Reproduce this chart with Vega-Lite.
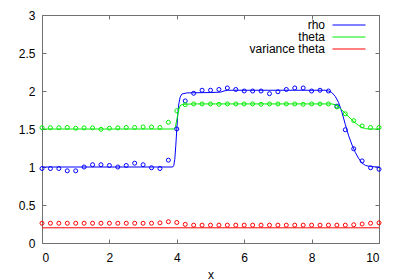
{
  "$schema": "https://vega.github.io/schema/vega-lite/v6.json",
  "width": 337,
  "height": 228,
  "autosize": "none",
  "padding": {"left": 42, "top": 15, "right": 21, "bottom": 37},
  "background": "white",
  "config": {
    "view": {"stroke": "#707070", "strokeWidth": 1},
    "font": "Liberation Sans",
    "axis": {"grid": false, "domain": false, "tickColor": "#707070", "tickSize": -4, "labelFontSize": 12, "labelColor": "#000000", "titleFontSize": 12, "titleFontWeight": "normal", "titleColor": "#000000", "labelFont": "Liberation Sans", "titleFont": "Liberation Sans"}
  },
  "datasets": {
    "curves": [
      {"s": "rho", "x": 0, "y": 1.0}, {"s": "rho", "x": 1.0, "y": 1.0}, {"s": "rho", "x": 2.0, "y": 1.0}, {"s": "rho", "x": 3.0, "y": 1.0}, {"s": "rho", "x": 3.88, "y": 1.0}, {"s": "rho", "x": 3.91, "y": 1.02}, {"s": "rho", "x": 3.94, "y": 1.1}, {"s": "rho", "x": 3.97, "y": 1.28}, {"s": "rho", "x": 4.0, "y": 1.5}, {"s": "rho", "x": 4.03, "y": 1.7}, {"s": "rho", "x": 4.06, "y": 1.83}, {"s": "rho", "x": 4.1, "y": 1.92}, {"s": "rho", "x": 4.15, "y": 1.96}, {"s": "rho", "x": 4.3, "y": 1.975}, {"s": "rho", "x": 5.0, "y": 1.98}, {"s": "rho", "x": 5.3, "y": 1.985}, {"s": "rho", "x": 5.4, "y": 2.0}, {"s": "rho", "x": 5.5, "y": 2.01}, {"s": "rho", "x": 7.0, "y": 2.01}, {"s": "rho", "x": 8.4, "y": 2.01}, {"s": "rho", "x": 8.5, "y": 2.0}, {"s": "rho", "x": 8.6, "y": 1.98}, {"s": "rho", "x": 8.7, "y": 1.93}, {"s": "rho", "x": 8.8, "y": 1.85}, {"s": "rho", "x": 8.9, "y": 1.72}, {"s": "rho", "x": 9.0, "y": 1.56}, {"s": "rho", "x": 9.1, "y": 1.41}, {"s": "rho", "x": 9.2, "y": 1.29}, {"s": "rho", "x": 9.3, "y": 1.19}, {"s": "rho", "x": 9.4, "y": 1.11}, {"s": "rho", "x": 9.5, "y": 1.05}, {"s": "rho", "x": 9.6, "y": 1.02}, {"s": "rho", "x": 9.75, "y": 1.005}, {"s": "rho", "x": 10, "y": 1.0},
      {"s": "theta", "x": 0, "y": 1.5}, {"s": "theta", "x": 2.0, "y": 1.5}, {"s": "theta", "x": 3.92, "y": 1.5}, {"s": "theta", "x": 3.96, "y": 1.53}, {"s": "theta", "x": 4.0, "y": 1.62}, {"s": "theta", "x": 4.04, "y": 1.72}, {"s": "theta", "x": 4.08, "y": 1.79}, {"s": "theta", "x": 4.12, "y": 1.815}, {"s": "theta", "x": 4.2, "y": 1.825}, {"s": "theta", "x": 4.5, "y": 1.83}, {"s": "theta", "x": 8.6, "y": 1.83}, {"s": "theta", "x": 8.7, "y": 1.82}, {"s": "theta", "x": 8.8, "y": 1.79}, {"s": "theta", "x": 8.9, "y": 1.75}, {"s": "theta", "x": 9.0, "y": 1.705}, {"s": "theta", "x": 9.1, "y": 1.66}, {"s": "theta", "x": 9.2, "y": 1.62}, {"s": "theta", "x": 9.3, "y": 1.58}, {"s": "theta", "x": 9.4, "y": 1.545}, {"s": "theta", "x": 9.5, "y": 1.52}, {"s": "theta", "x": 9.6, "y": 1.505}, {"s": "theta", "x": 9.7, "y": 1.5}, {"s": "theta", "x": 10, "y": 1.5},
      {"s": "variance theta", "x": 0, "y": 0.2}, {"s": "variance theta", "x": 10, "y": 0.2}
    ],
    "samples": [
      {"s": "rho", "x": 0, "y": 0.98}, {"s": "rho", "x": 0.25, "y": 0.98}, {"s": "rho", "x": 0.5, "y": 0.98}, {"s": "rho", "x": 0.75, "y": 0.95}, {"s": "rho", "x": 1.0, "y": 0.95}, {"s": "rho", "x": 1.25, "y": 1.0}, {"s": "rho", "x": 1.5, "y": 1.03}, {"s": "rho", "x": 1.75, "y": 1.03}, {"s": "rho", "x": 2.0, "y": 1.02}, {"s": "rho", "x": 2.25, "y": 1.0}, {"s": "rho", "x": 2.5, "y": 1.02}, {"s": "rho", "x": 2.75, "y": 1.05}, {"s": "rho", "x": 3.0, "y": 1.03}, {"s": "rho", "x": 3.25, "y": 0.99}, {"s": "rho", "x": 3.5, "y": 0.98}, {"s": "rho", "x": 3.75, "y": 1.09}, {"s": "rho", "x": 4.0, "y": 1.5}, {"s": "rho", "x": 4.25, "y": 1.87}, {"s": "rho", "x": 4.5, "y": 1.97}, {"s": "rho", "x": 4.75, "y": 2.01}, {"s": "rho", "x": 5.0, "y": 2.01}, {"s": "rho", "x": 5.25, "y": 2.02}, {"s": "rho", "x": 5.5, "y": 2.04}, {"s": "rho", "x": 5.75, "y": 2.02}, {"s": "rho", "x": 6.0, "y": 2.0}, {"s": "rho", "x": 6.25, "y": 2.0}, {"s": "rho", "x": 6.5, "y": 2.0}, {"s": "rho", "x": 6.75, "y": 1.965}, {"s": "rho", "x": 7.0, "y": 1.99}, {"s": "rho", "x": 7.25, "y": 2.02}, {"s": "rho", "x": 7.5, "y": 2.04}, {"s": "rho", "x": 7.75, "y": 2.04}, {"s": "rho", "x": 8.0, "y": 2.0}, {"s": "rho", "x": 8.25, "y": 2.01}, {"s": "rho", "x": 8.5, "y": 2.0}, {"s": "rho", "x": 8.75, "y": 1.8}, {"s": "rho", "x": 9.0, "y": 1.49}, {"s": "rho", "x": 9.25, "y": 1.24}, {"s": "rho", "x": 9.5, "y": 1.08}, {"s": "rho", "x": 9.75, "y": 0.99}, {"s": "rho", "x": 10, "y": 0.97},
      {"s": "theta", "x": 0, "y": 1.517}, {"s": "theta", "x": 0.25, "y": 1.517}, {"s": "theta", "x": 0.5, "y": 1.517}, {"s": "theta", "x": 0.75, "y": 1.52}, {"s": "theta", "x": 1.0, "y": 1.51}, {"s": "theta", "x": 1.25, "y": 1.515}, {"s": "theta", "x": 1.5, "y": 1.515}, {"s": "theta", "x": 1.75, "y": 1.496}, {"s": "theta", "x": 2.0, "y": 1.51}, {"s": "theta", "x": 2.25, "y": 1.515}, {"s": "theta", "x": 2.5, "y": 1.52}, {"s": "theta", "x": 2.75, "y": 1.52}, {"s": "theta", "x": 3.0, "y": 1.527}, {"s": "theta", "x": 3.25, "y": 1.527}, {"s": "theta", "x": 3.5, "y": 1.52}, {"s": "theta", "x": 3.75, "y": 1.588}, {"s": "theta", "x": 4.0, "y": 1.74}, {"s": "theta", "x": 4.25, "y": 1.82}, {"s": "theta", "x": 4.5, "y": 1.83}, {"s": "theta", "x": 4.75, "y": 1.83}, {"s": "theta", "x": 5.0, "y": 1.83}, {"s": "theta", "x": 5.25, "y": 1.825}, {"s": "theta", "x": 5.5, "y": 1.83}, {"s": "theta", "x": 5.75, "y": 1.83}, {"s": "theta", "x": 6.0, "y": 1.83}, {"s": "theta", "x": 6.25, "y": 1.83}, {"s": "theta", "x": 6.5, "y": 1.825}, {"s": "theta", "x": 6.75, "y": 1.83}, {"s": "theta", "x": 7.0, "y": 1.83}, {"s": "theta", "x": 7.25, "y": 1.83}, {"s": "theta", "x": 7.5, "y": 1.83}, {"s": "theta", "x": 7.75, "y": 1.825}, {"s": "theta", "x": 8.0, "y": 1.83}, {"s": "theta", "x": 8.25, "y": 1.83}, {"s": "theta", "x": 8.5, "y": 1.83}, {"s": "theta", "x": 8.75, "y": 1.79}, {"s": "theta", "x": 9.0, "y": 1.7}, {"s": "theta", "x": 9.25, "y": 1.61}, {"s": "theta", "x": 9.5, "y": 1.54}, {"s": "theta", "x": 9.75, "y": 1.52}, {"s": "theta", "x": 10, "y": 1.52},
      {"s": "variance theta", "x": 0, "y": 0.26}, {"s": "variance theta", "x": 0.25, "y": 0.26}, {"s": "variance theta", "x": 0.5, "y": 0.26}, {"s": "variance theta", "x": 0.75, "y": 0.26}, {"s": "variance theta", "x": 1.0, "y": 0.26}, {"s": "variance theta", "x": 1.25, "y": 0.26}, {"s": "variance theta", "x": 1.5, "y": 0.26}, {"s": "variance theta", "x": 1.75, "y": 0.26}, {"s": "variance theta", "x": 2.0, "y": 0.26}, {"s": "variance theta", "x": 2.25, "y": 0.26}, {"s": "variance theta", "x": 2.5, "y": 0.26}, {"s": "variance theta", "x": 2.75, "y": 0.26}, {"s": "variance theta", "x": 3.0, "y": 0.26}, {"s": "variance theta", "x": 3.25, "y": 0.26}, {"s": "variance theta", "x": 3.5, "y": 0.265}, {"s": "variance theta", "x": 3.75, "y": 0.28}, {"s": "variance theta", "x": 4.0, "y": 0.27}, {"s": "variance theta", "x": 4.25, "y": 0.245}, {"s": "variance theta", "x": 4.5, "y": 0.235}, {"s": "variance theta", "x": 4.75, "y": 0.235}, {"s": "variance theta", "x": 5.0, "y": 0.235}, {"s": "variance theta", "x": 5.25, "y": 0.235}, {"s": "variance theta", "x": 5.5, "y": 0.235}, {"s": "variance theta", "x": 5.75, "y": 0.235}, {"s": "variance theta", "x": 6.0, "y": 0.235}, {"s": "variance theta", "x": 6.25, "y": 0.235}, {"s": "variance theta", "x": 6.5, "y": 0.235}, {"s": "variance theta", "x": 6.75, "y": 0.235}, {"s": "variance theta", "x": 7.0, "y": 0.235}, {"s": "variance theta", "x": 7.25, "y": 0.235}, {"s": "variance theta", "x": 7.5, "y": 0.235}, {"s": "variance theta", "x": 7.75, "y": 0.235}, {"s": "variance theta", "x": 8.0, "y": 0.235}, {"s": "variance theta", "x": 8.25, "y": 0.235}, {"s": "variance theta", "x": 8.5, "y": 0.235}, {"s": "variance theta", "x": 8.75, "y": 0.235}, {"s": "variance theta", "x": 9.0, "y": 0.235}, {"s": "variance theta", "x": 9.25, "y": 0.24}, {"s": "variance theta", "x": 9.5, "y": 0.25}, {"s": "variance theta", "x": 9.75, "y": 0.26}, {"s": "variance theta", "x": 10, "y": 0.265}
    ]
  },
  "layer": [
    {
      "data": {"name": "curves"},
      "mark": {"type": "line", "strokeWidth": 1, "clip": true},
      "encoding": {
        "x": {"field": "x", "type": "quantitative", "scale": {"domain": [0, 10], "nice": false, "zero": false}, "axis": {"orient": "bottom", "values": [0, 2, 4, 6, 8, 10], "title": "x", "labelPadding": 13, "titleY": 26}},
        "y": {"field": "y", "type": "quantitative", "scale": {"domain": [0, 3], "nice": false}, "axis": {"orient": "left", "values": [0, 0.5, 1, 1.5, 2, 2.5, 3], "format": ".1~f", "title": null, "labelPadding": 11}},
        "color": {"field": "s", "type": "nominal", "scale": {"domain": ["rho", "theta", "variance theta"], "range": ["#0000ff", "#00ee00", "#ff0000"]},
          "legend": {"title": null, "orient": "none", "legendX": 301, "legendY": 4, "symbolType": "M-3,0H3", "symbolSize": 121, "symbolStrokeWidth": 1, "labelAlign": "right", "labelOffset": -30, "labelFontSize": 12, "labelColor": "#000000", "rowPadding": 0, "padding": 0}},
        "order": {"field": "x", "type": "quantitative"}
      }
    },
    {
      "data": {"name": "samples"},
      "mark": {"type": "point", "shape": "circle", "filled": false, "size": 16, "strokeWidth": 1, "opacity": 1},
      "encoding": {
        "x": {"field": "x", "type": "quantitative", "axis": {"orient": "top", "values": [0, 2, 4, 6, 8, 10], "labels": false, "title": null}},
        "y": {"field": "y", "type": "quantitative", "axis": {"orient": "right", "values": [0, 0.5, 1, 1.5, 2, 2.5, 3], "labels": false, "title": null}},
        "color": {"field": "s", "type": "nominal", "legend": null}
      }
    }
  ],
  "resolve": {"axis": {"x": "independent", "y": "independent"}}
}
